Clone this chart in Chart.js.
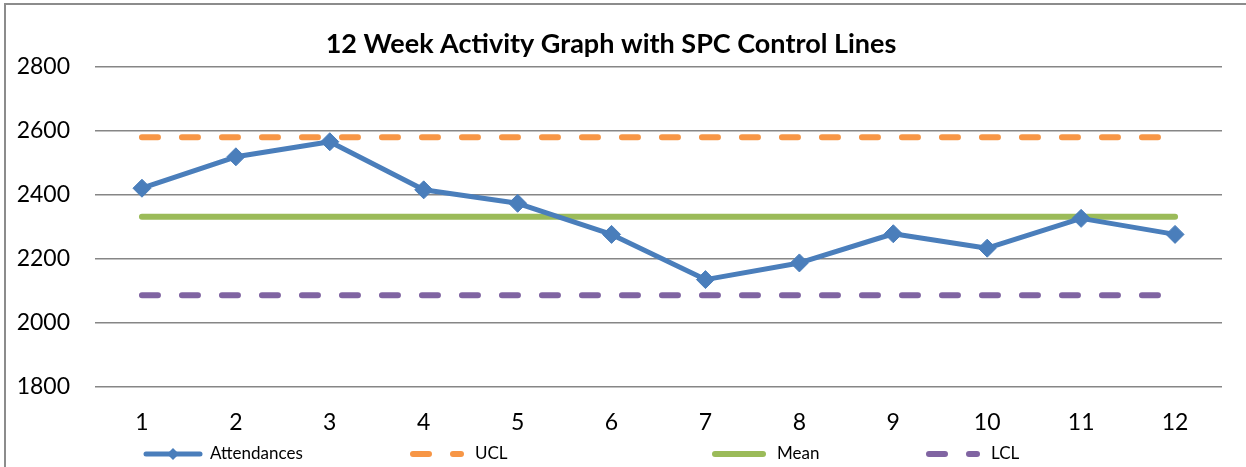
<!DOCTYPE html>
<html>
<head>
<meta charset="utf-8">
<script src="https://cdn.jsdelivr.net/npm/chart.js@4"></script>
<style>
    html, body { margin: 0; padding: 0; background: #fff; }
    #wrap { width: 1246px; height: 467px; position: relative; }
</style>
</head>
<body>
<div id="wrap"><canvas id="spc-chart"></canvas></div>
<script>
// Chart data
const weeks = ['1', '2', '3', '4', '5', '6', '7', '8', '9', '10', '11', '12'];
const attendances = [2420, 2518, 2565, 2415, 2373, 2276, 2135, 2187, 2278, 2233, 2326, 2276];
const uclValues = [2579, 2579, 2579, 2579, 2579, 2579, 2579, 2579, 2579, 2579, 2579, 2579];
const meanValues = [2331, 2331, 2331, 2331, 2331, 2331, 2331, 2331, 2331, 2331, 2331, 2331];
const lclValues = [2086, 2086, 2086, 2086, 2086, 2086, 2086, 2086, 2086, 2086, 2086, 2086];
const seriesNames = ['Attendances', 'UCL', 'Mean', 'LCL'];
const yTicks = [1800, 2000, 2200, 2400, 2600, 2800];

const FONT = 'Lato, "Open Sans", sans-serif';

// Frame around the chart plus the legend at the bottom (Excel style)
const framePlugin = {
    id: 'frameAndLegend',
    beforeDraw(chart) {
        const ctx = chart.ctx;
        ctx.save();
        ctx.strokeStyle = '#8c8c8c';
        ctx.lineWidth = 2;
        ctx.beginPath();
        ctx.moveTo(5, chart.height);
        ctx.lineTo(5, 4);
        ctx.lineTo(chart.width, 4);
        ctx.stroke();
        ctx.restore();
    },
    afterDraw(chart) {
        const ctx = chart.ctx;
        const y = 454;
        const starts = [143, 410, 712, 926];
        ctx.save();
        ctx.font = '17px ' + FONT;
        ctx.textBaseline = 'middle';
        ctx.fillStyle = '#000';
        chart.data.datasets.forEach((ds, i) => {
            const x0 = starts[i];
            const w = i === 0 ? 60 : 54;
            ctx.strokeStyle = ds.borderColor;
            ctx.lineWidth = ds.borderWidth;
            ctx.lineCap = 'round';
            ctx.setLineDash(ds.borderDash || []);
            ctx.beginPath();
            ctx.moveTo(x0 + 3, y);
            ctx.lineTo(x0 + w - 3, y);
            ctx.stroke();
            ctx.setLineDash([]);
            if (i === 0) {
                const cx = x0 + w / 2, r = 6;
                ctx.fillStyle = ds.borderColor;
                ctx.beginPath();
                ctx.moveTo(cx, y - r);
                ctx.lineTo(cx + r, y);
                ctx.lineTo(cx, y + r);
                ctx.lineTo(cx - r, y);
                ctx.closePath();
                ctx.fill();
                ctx.fillStyle = '#000';
            }
            ctx.fillText(ds.label, x0 + w + (i === 0 ? 7 : 11), y);
        });
        ctx.restore();
    }
};

const dashed = {
    borderWidth: 6,
    borderDash: [16, 24],
    borderCapStyle: 'round',
    pointRadius: 0,
    pointHoverRadius: 0,
    fill: false
};

new Chart(document.getElementById('spc-chart'), {
    type: 'line',
    data: {
        labels: weeks,
        datasets: [
            {
                label: seriesNames[0],
                data: attendances,
                borderColor: '#4a7ebb',
                backgroundColor: '#4a7ebb',
                borderWidth: 5,
                pointStyle: 'rectRot',
                pointRadius: 9,
                pointBorderWidth: 1,
                borderJoinStyle: 'round',
                order: 0
            },
            Object.assign({ label: seriesNames[1], data: uclValues, borderColor: '#f79646', order: 1 }, dashed),
            {
                label: seriesNames[2],
                data: meanValues,
                borderColor: '#9bbb59',
                borderWidth: 6,
                borderCapStyle: 'round',
                pointRadius: 0,
                order: 2
            },
            Object.assign({ label: seriesNames[3], data: lclValues, borderColor: '#8064a2', order: 3 }, dashed)
        ]
    },
    options: {
        responsive: true,
        maintainAspectRatio: false,
        animation: false,
        layout: { padding: { left: 0, right: 24, top: 0, bottom: 25 } },
        plugins: {
            legend: { display: false },
            tooltip: { enabled: false },
            title: {
                display: true,
                text: '12 Week Activity Graph with SPC Control Lines',
                color: '#000',
                font: { family: FONT, size: 27, weight: 'bold' },
                padding: { top: 28, bottom: 6 }
            }
        },
        scales: {
            x: {
                offset: true,
                grid: { display: false, drawTicks: false },
                border: { display: false },
                ticks: { color: '#000', font: { family: FONT, size: 23 }, padding: 22 },
                afterFit(scale) { scale.height = 55; }
            },
            y: {
                min: 1800,
                max: 2800,
                afterBuildTicks(scale) { scale.ticks = yTicks.map(v => ({ value: v })); },
                grid: { color: '#868686', lineWidth: 1.5, drawTicks: false },
                border: { display: false },
                ticks: {
                    color: '#000',
                    font: { family: FONT, size: 23 },
                    padding: 25,
                    callback: (v) => String(v)
                },
                afterFit(scale) { scale.width = 95; }
            }
        }
    },
    plugins: [framePlugin]
});
</script>
</body>
</html>
